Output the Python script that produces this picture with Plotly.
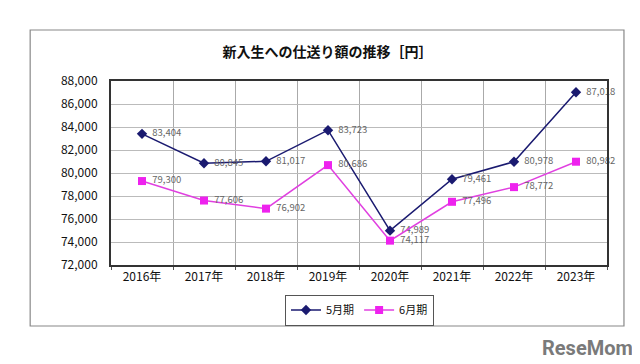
import plotly.graph_objects as go

years = ["2016年", "2017年", "2018年", "2019年", "2020年", "2021年", "2022年", "2023年"]
may = [83404, 80845, 81017, 83723, 74989, 79461, 80978, 87018]
june = [79300, 77606, 76902, 80686, 74117, 77496, 78772, 80982]
y_ticks = [72000, 74000, 76000, 78000, 80000, 82000, 84000, 86000, 88000]

FONT = "Noto Sans CJK JP"
PAD = "\u00a0\u00a0"

fig = go.Figure()
fig.add_trace(go.Scatter(
    x=years, y=may, name="5月期", mode="lines+markers+text",
    line=dict(color="#1a1a70", width=1.5),
    marker=dict(symbol="diamond", size=8, color="#1a1a70"),
    text=[PAD + f"{v:,}" for v in may], textposition="middle right",
    textfont=dict(family=FONT, size=9.5, color="#666666"),
    cliponaxis=False,
))
fig.add_trace(go.Scatter(
    x=years, y=june, name="6月期", mode="lines+markers+text",
    line=dict(color="#e040e0", width=1.5),
    marker=dict(symbol="square", size=8, color="#ee22ee"),
    text=[PAD + f"{v:,}" for v in june], textposition="middle right",
    textfont=dict(family=FONT, size=9.5, color="#666666"),
    cliponaxis=False,
))

fig.update_layout(
    width=640, height=364,
    margin=dict(l=103, r=41, t=73, b=107),
    paper_bgcolor="white", plot_bgcolor="white",
    font=dict(family=FONT, size=12, color="#222222"),
    title=dict(text="<b>新入生への仕送り額の推移［円］</b>", x=319.5 / 640,
               xref="container", xanchor="center",
               y=1 - 44 / 364, yanchor="middle",
               font=dict(family=FONT, size=14, color="#111111")),
    showlegend=True,
    legend=dict(orientation="h", x=(352 - 103) / 497, xanchor="center",
                y=(257 - 302) / 184, yanchor="middle",
                bordercolor="#555555", borderwidth=1, bgcolor="white",
                font=dict(family=FONT, size=11, color="#111111"),
                itemwidth=30, tracegroupgap=0),
    xaxis=dict(type="category", tickson="boundaries", showgrid=True,
               gridcolor="#aaaaaa", gridwidth=1, ticks="outside", ticklen=3,
               tickcolor="#555555", showline=True, linecolor="#333333",
               linewidth=2, mirror=True, range=[-0.5, 7.5],
               tickfont=dict(family=FONT, size=12, color="#111111")),
    yaxis=dict(range=[72000, 88000], tickvals=y_ticks,
               ticktext=[f"{v:,}" for v in y_ticks],
               showgrid=True, gridcolor="#bbbbbb", gridwidth=1,
               showline=True, linecolor="#333333", linewidth=2, mirror=True,
               zeroline=False, ticklabelstandoff=9,
               tickfont=dict(family=FONT, size=12, color="#111111")),
)

# outer chart frame
fig.add_shape(type="rect", xref="paper", yref="paper",
              x0=(22 - 103) / 497, x1=(617 - 103) / 497,
              y0=(257 - 318) / 184, y1=(257 - 22) / 184,
              line=dict(color="#888888", width=1.2), layer="below")

# watermark
fig.add_annotation(text="<b>ReseMom</b>", xref="paper", yref="paper",
                   x=(628 - 103) / 497, xanchor="right",
                   y=(257 - 340) / 184, yanchor="middle", showarrow=False,
                   font=dict(family="Roboto", size=20, color="#7a7a7a"))

fig.write_html("out.html")
